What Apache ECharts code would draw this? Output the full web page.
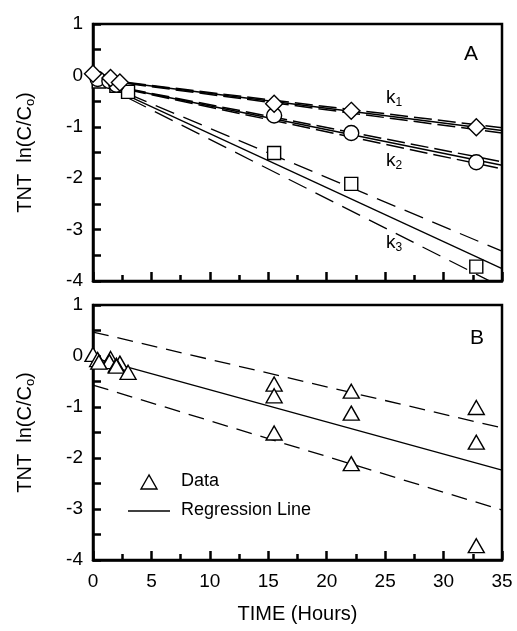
<!DOCTYPE html>
<html>
<head>
<meta charset="utf-8">
<script src="https://cdn.jsdelivr.net/npm/echarts@6/dist/echarts.min.js"></script>
<style>
  html, body { margin: 0; padding: 0; background: #fff; }
  #chart { width: 517px; height: 631px; }
</style>
</head>
<body>
<div id="chart"></div>
<script>
// measured points (time in hours, ln(C/Co))
const timeK1 = [0, 1.5, 2.3, 15.5, 22.1, 32.8];
const valK1 = [0.03, -0.05, -0.14, -0.55, -0.69, -1.01];
const timeK2 = [0.4, 1.4, 2.0, 15.5, 22.1, 32.8];
const valK2 = [-0.07, -0.11, -0.18, -0.78, -1.12, -1.69];
const timeK3 = [0.5, 2.0, 3.0, 15.5, 22.1, 32.8];
const valK3 = [-0.12, -0.2, -0.32, -1.51, -2.11, -3.72];

// fitted lines, panel A: [start, end] as [time, value]
const fitK1 = [[3, -0.15], [35, -1.07]];
const fitK1Up = [[3, -0.14], [35, -1.02]];
const fitK1Lo = [[3, -0.16], [35, -1.12]];
const fitK2 = [[3, -0.27], [35, -1.75]];
const fitK2Up = [[3, -0.26], [35, -1.68]];
const fitK2Lo = [[3, -0.28], [35, -1.82]];
const fitK3 = [[3, -0.40], [35, -3.76]];
const fitK3Up = [[3, -0.36], [35, -3.42]];
const fitK3Lo = [[3, -0.44], [35, -4.12]];

// panel B regression and bounds
const regB = [[0, -0.03], [35, -2.24]];
const regBUp = [[0, 0.47], [35, -1.41]];
const regBLo = [[0, -0.57], [35, -3.02]];

const xTicks = [0, 5, 10, 15, 20, 25, 30, 35];
const yTicks = [-4, -3, -2, -1, 0, 1];

const chart = echarts.init(document.getElementById('chart'));

const font = 'Liberation Sans, Arial, sans-serif';
const pairs = (t, v) => t.map((x, i) => [x, v[i]]);

function xAx(idx, showLabel) {
  return {
    type: 'value', gridIndex: idx, min: 0, max: 35, interval: 5,
    axisLine: { show: true, onZero: false, lineStyle: { color: '#000', width: 2.5 } },
    axisTick: { show: true, inside: true, length: 9, lineStyle: { color: '#000', width: 2.5 } },
    minorTick: { show: true, splitNumber: 2, length: 6, lineStyle: { color: '#000', width: 2.5 } },
    splitLine: { show: false },
    axisLabel: {
      show: showLabel, color: '#000', fontSize: 19, fontFamily: font, margin: 12,
      formatter: v => xTicks.includes(v) ? String(v) : ''
    },
    name: showLabel ? 'TIME (Hours)' : '',
    nameLocation: 'middle', nameGap: 44,
    nameTextStyle: { color: '#000', fontSize: 20, fontFamily: font }
  };
}

function yAx(idx) {
  return {
    type: 'value', gridIndex: idx, min: -4, max: 1, interval: 1,
    axisLine: { show: true, onZero: false, lineStyle: { color: '#000', width: 2.5 } },
    axisTick: { show: true, inside: true, length: 8, lineStyle: { color: '#000', width: 2.5 } },
    minorTick: { show: true, splitNumber: 2, length: 8, lineStyle: { color: '#000', width: 2.5 } },
    splitLine: { show: false },
    axisLabel: {
      color: '#000', fontSize: 19, fontFamily: font, margin: 10,
      formatter: v => yTicks.includes(v) ? String(v) : ''
    },
    name: 'TNT  ln(C/C{sub|o})',
    nameLocation: 'middle', nameRotate: 90, nameGap: 56,
    nameTextStyle: {
      color: '#000', fontSize: 20, fontFamily: font,
      rich: { sub: { fontSize: 13, fontFamily: font, color: '#000', verticalAlign: 'bottom', padding: [10, 0, 0, 0] } }
    }
  };
}

function lineSeries(data, idx, dash, width) {
  return {
    type: 'line', xAxisIndex: idx, yAxisIndex: idx, data: data,
    showSymbol: false, silent: true, z: 2,
    lineStyle: { color: '#000', width: width || 1.3, type: dash || 'solid' }
  };
}

function markSeries(data, idx, symbol, size) {
  return {
    type: 'scatter', xAxisIndex: idx, yAxisIndex: idx, data: data,
    symbol: symbol, symbolSize: size, z: 5,
    itemStyle: { color: '#fff', borderColor: '#000', borderWidth: 1.4, opacity: 1 }
  };
}

const dashA = [18, 6];
const dashK3 = [20, 10];
const dashB = [16, 9];

const option = {
  backgroundColor: '#fff',
  animation: false,
  grid: [
    { left: 93, top: 24, width: 409, height: 257, show: true, borderColor: '#000', borderWidth: 2.5, backgroundColor: 'transparent' },
    { left: 93, top: 305, width: 409, height: 255, show: true, borderColor: '#000', borderWidth: 2.5, backgroundColor: 'transparent' }
  ],
  xAxis: [xAx(0, false), xAx(1, true)],
  yAxis: [yAx(0), yAx(1)],
  series: [
    lineSeries(fitK1, 0, null, 1.5), lineSeries(fitK1Up, 0, dashA, 1.5), lineSeries(fitK1Lo, 0, dashA, 1.5),
    lineSeries(fitK2, 0, null, 1.5), lineSeries(fitK2Up, 0, dashA, 1.5), lineSeries(fitK2Lo, 0, dashA, 1.5),
    lineSeries(fitK3, 0), lineSeries(fitK3Up, 0, dashK3), lineSeries(fitK3Lo, 0, dashK3),
    markSeries(pairs(timeK3, valK3), 0, 'rect', 13),
    markSeries(pairs(timeK2, valK2), 0, 'circle', 15),
    markSeries(pairs(timeK1, valK1), 0, 'diamond', 17),
    lineSeries(regB, 1), lineSeries(regBUp, 1, dashB), lineSeries(regBLo, 1, dashB),
    markSeries(pairs(timeK1, valK1).concat(pairs(timeK2, valK2), pairs(timeK3, valK3)), 1, 'triangle', [16, 14])
  ],
  graphic: [
    { type: 'text', left: 464, top: 44, style: { text: 'A', font: '21px ' + font, fill: '#000' } },
    { type: 'text', left: 470, top: 328, style: { text: 'B', font: '21px ' + font, fill: '#000' } },
    { type: 'text', left: 386, top: 88, style: {
      text: 'k{s|1}', font: '19px ' + font, fill: '#000',
      rich: { s: { fontSize: 12, fontFamily: font, verticalAlign: 'bottom', padding: [10, 0, 0, 0] } } } },
    { type: 'text', left: 386, top: 151, style: {
      text: 'k{s|2}', font: '19px ' + font, fill: '#000',
      rich: { s: { fontSize: 12, fontFamily: font, verticalAlign: 'bottom', padding: [10, 0, 0, 0] } } } },
    { type: 'text', left: 386, top: 233, style: {
      text: 'k{s|3}', font: '19px ' + font, fill: '#000',
      rich: { s: { fontSize: 12, fontFamily: font, verticalAlign: 'bottom', padding: [10, 0, 0, 0] } } } },
    // legend for panel B
    { type: 'polygon', shape: { points: [[149, 475], [141, 489], [157, 489]] },
      style: { fill: '#fff', stroke: '#000', lineWidth: 1.4 } },
    { type: 'text', left: 181, top: 472, style: { text: 'Data', font: '18px ' + font, fill: '#000' } },
    { type: 'line', shape: { x1: 128, y1: 511, x2: 170, y2: 511 }, style: { stroke: '#000', lineWidth: 1.3 } },
    { type: 'text', left: 181, top: 501, style: { text: 'Regression Line', font: '18px ' + font, fill: '#000' } }
  ]
};

chart.setOption(option);
</script>
</body>
</html>
